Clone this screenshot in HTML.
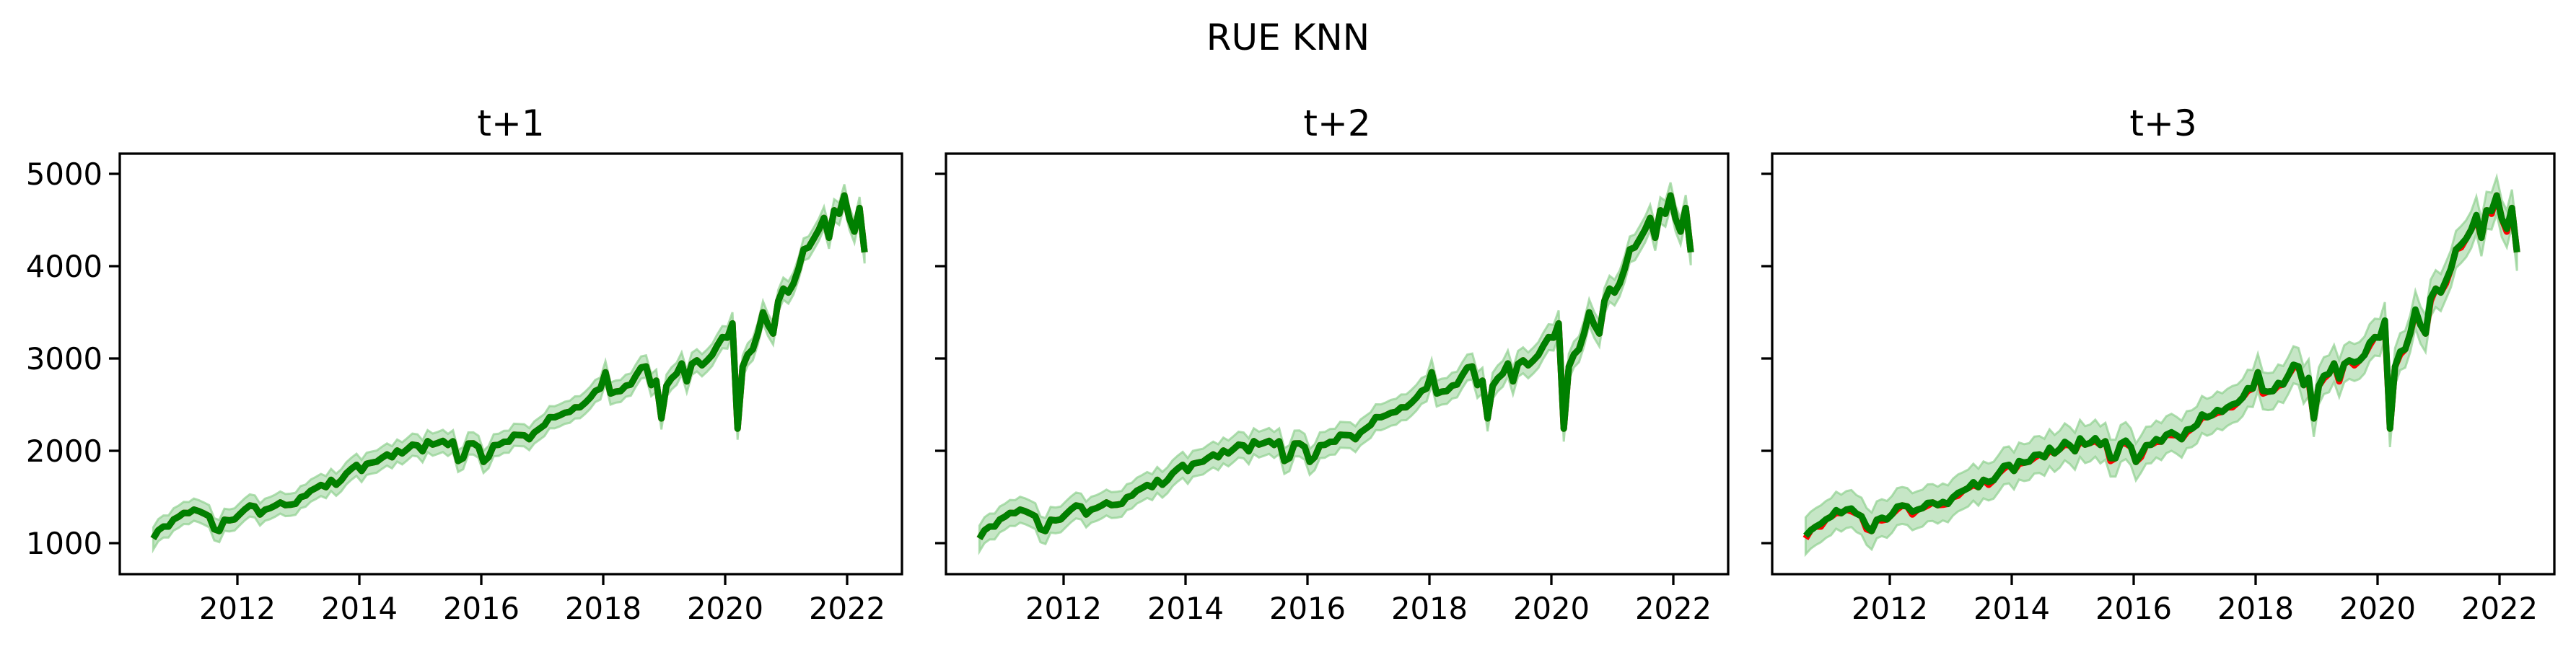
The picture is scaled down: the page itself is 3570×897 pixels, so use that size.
<!DOCTYPE html>
<html><head><meta charset="utf-8"><style>
html,body{margin:0;padding:0;background:#fff}
svg{display:block}
text{font-family:"DejaVu Sans","Liberation Sans",sans-serif;fill:#000}
</style></head><body>
<svg id="fig" width="3570" height="897" viewBox="0 0 3570 897" xmlns="http://www.w3.org/2000/svg">
<rect width="3570" height="897" fill="#fff"/>
<text x="1785" y="69" font-size="50" text-anchor="middle">RUE KNN</text>
</svg>
<script>
// monthly S&P-like actual values from Aug 2010
const startYear = 2010.62;
const actual = [1050,1140,1180,1180,1257,
1286,1327,1325,1363,1345,1320,1292,1150,1131,1253,1246,1257,
1312,1365,1408,1397,1310,1362,1379,1406,1440,1412,1416,1426,
1498,1514,1569,1597,1630,1606,1685,1632,1681,1756,1806,1848,
1782,1859,1872,1883,1924,1960,1930,2003,1972,2018,2067,2058,
1995,2104,2067,2085,2107,2063,2103,1890,1920,2079,2080,2043,
1880,1932,2060,2065,2097,2099,2174,2171,2168,2126,2199,2239,
2279,2364,2363,2384,2412,2423,2470,2472,2519,2575,2648,2674,
2850,2620,2641,2648,2705,2718,2816,2902,2914,2712,2760,2351,
2704,2784,2834,2946,2752,2942,2980,2926,2977,3038,3141,3231,
3226,3380,2240,2912,3044,3100,3271,3500,3363,3270,3622,3756,
3714,3811,3973,4181,4204,4298,4395,4523,4308,4605,4567,4766,
4516,4374,4630,4150];
const predOffset = [0, 0, 30];
const bandHalf = [120, 140, 200];
const panelTitles = ["t+1","t+2","t+3"];
const yTicks = [1000,2000,3000,4000,5000];
const xTicks = [2012,2014,2016,2018,2020,2022];

const NS="http://www.w3.org/2000/svg";
const svg=document.getElementById('fig');
const panelLefts=[166,1311,2456], PW=1084, TOP=213, BOT=796;
function yS(v){return 753-(v-1000)*0.128;}
function xS(p,yr){return panelLefts[p]+163+(yr-2012)*84.5;}
function mk(tag,attrs,parent){const e=document.createElementNS(NS,tag);for(const k in attrs)e.setAttribute(k,attrs[k]);(parent||svg).appendChild(e);return e;}

for(let p=0;p<3;p++){
  const g=mk('g',{});
  
  
  const L=panelLefts[p];
  const t=mk('text',{x:L+PW/2,y:188,'font-size':50,'text-anchor':'middle'},g);
  t.textContent=panelTitles[p];
  
  
  const xs=actual.map((v,i)=>xS(p,startYear+i/12));
  const pred=actual.map((v,i)=>v+(i%3===0?predOffset[p]:0));
  let up='',dn='';
  pred.forEach((v,i)=>{up+=(i?'L':'M')+xs[i].toFixed(1)+' '+yS(v+bandHalf[p]).toFixed(1);});
  for(let i=pred.length-1;i>=0;i--){dn+='L'+xs[i].toFixed(1)+' '+yS(pred[i]-bandHalf[p]).toFixed(1);}
  const band=mk('path',{d:up+dn+'Z',fill:'#5cb85c','fill-opacity':0.35,stroke:'#8fd08f','stroke-opacity':0.7,'stroke-width':3},g);
  
  
  const ad=actual.map((v,i)=>(i?'L':'M')+xs[i].toFixed(1)+' '+yS(v).toFixed(1)).join('');
  const al=mk('path',{d:ad,fill:'none',stroke:'#ff0000','stroke-width':9,'stroke-linejoin':'round'},g);
  
  
  const pd=pred.map((v,i)=>(i?'L':'M')+xs[i].toFixed(1)+' '+yS(v).toFixed(1)).join('');
  const pl=mk('path',{d:pd,fill:'none',stroke:'#008000','stroke-width':9,'stroke-linejoin':'round'},g);
  
  
  const fr=mk('rect',{x:L,y:TOP,width:PW,height:BOT-TOP,fill:'none',stroke:'#000','stroke-width':3.3},g);
  
  
  yTicks.forEach(v=>{
    mk('line',{x1:L-15,x2:L,y1:yS(v),y2:yS(v),stroke:'#000','stroke-width':3.3},g);
    if(p===0){const tl=mk('text',{x:L-24,y:yS(v)+15,'font-size':41.7,'text-anchor':'end'},g);tl.textContent=v;
      
      }
  });
  xTicks.forEach(yr=>{
    const x=xS(p,yr);
    mk('line',{x1:x,x2:x,y1:BOT,y2:BOT+15,stroke:'#000','stroke-width':3.3},g);
    const tl=mk('text',{x:x,y:858,'font-size':41.7,'text-anchor':'middle'},g);tl.textContent=yr;
    
    
  });
}
</script>
</body></html>
